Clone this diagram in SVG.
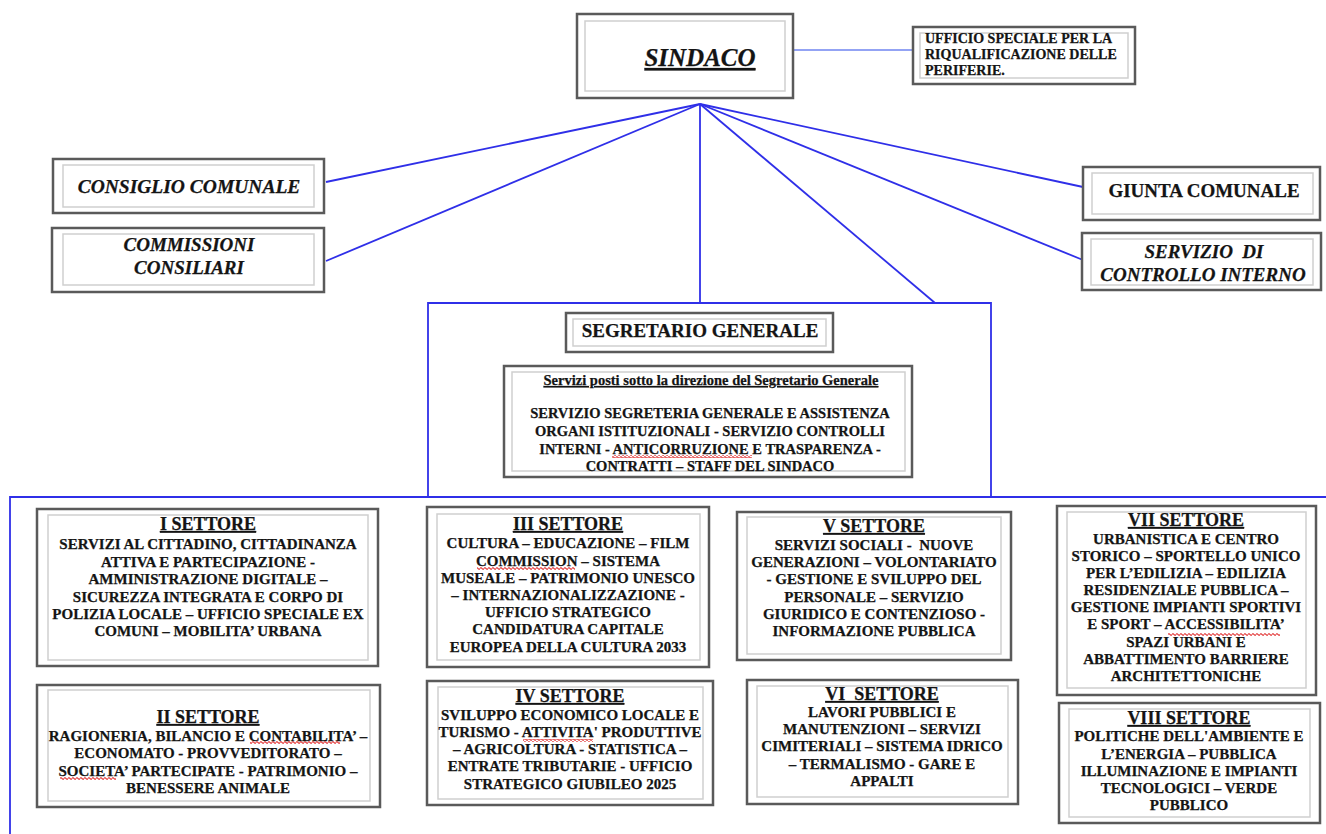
<svg xmlns="http://www.w3.org/2000/svg" width="1326" height="834" viewBox="0 0 1326 834">
<style>
.o{fill:#fff;stroke:#5a5a5a;stroke-width:2.5}
.i{fill:none;stroke:#cfcfcf;stroke-width:1.5}
text{font-family:"Liberation Serif","Times New Roman",serif;font-weight:bold;fill:#141414;stroke:#141414;stroke-width:0.25}
.c{text-anchor:middle}
.t{font-size:18px;text-decoration:underline}
.b{font-size:15px}
.h{font-size:19px}
.it{font-style:italic}
.ln{stroke:#2f2fe8;stroke-width:1.8;fill:none}
.wv{fill:url(#wave)}
</style>
<defs>
<pattern id="wave" x="0" y="0" width="4" height="3" patternUnits="userSpaceOnUse">
<path d="M0 1.5 Q1 0 2 1.5 T4 1.5" fill="none" stroke="#e02828" stroke-width="1.2"/>
</pattern>
</defs>
<rect width="1326" height="834" fill="#fff"/>
<g id="connectors">
<line x1="792" y1="50" x2="913" y2="50" stroke="#6f84f0" stroke-width="1.5"/>
<line class="ln" x1="700" y1="104" x2="326" y2="182"/>
<line class="ln" x1="700" y1="104" x2="326" y2="261"/>
<line class="ln" x1="700" y1="104" x2="700" y2="303"/>
<line class="ln" x1="700" y1="104" x2="935" y2="303"/>
<line class="ln" x1="700" y1="104" x2="1083" y2="187"/>
<line class="ln" x1="700" y1="104" x2="1083" y2="260"/>
<polyline class="ln" points="428,497 428,303 991,303 991,497"/>
<polyline class="ln" points="10,834 10,497 1326,497"/>
</g>
<g id="sindaco">
<rect class="o" x="577" y="14" width="216" height="84"/>
<rect class="i" x="585" y="21" width="200" height="70"/>
<text class="c it" x="700" y="66" style="font-size:25px;text-decoration:underline">SINDACO</text>
</g>
<g id="ufficio-speciale">
<rect class="o" x="913" y="27" width="222" height="57"/>
<rect class="i" x="920" y="33" width="208" height="45"/>
<text x="925" y="43" style="font-size:14px">UFFICIO SPECIALE PER LA</text>
<text x="925" y="59" style="font-size:14px">RIQUALIFICAZIONE DELLE</text>
<text x="925" y="75" style="font-size:14px">PERIFERIE.</text>
</g>
<g id="consiglio">
<rect class="o" x="53" y="159" width="271" height="54"/>
<rect class="i" x="63" y="165" width="251" height="42"/>
<text class="c h it" x="189" y="193" style="font-size:19.5px">CONSIGLIO COMUNALE</text>
</g>
<g id="commissioni">
<rect class="o" x="52" y="228" width="272" height="64"/>
<rect class="i" x="63" y="234" width="251" height="51"/>
<text class="c h it" x="189" y="251">COMMISSIONI</text>
<text class="c h it" x="189" y="274">CONSILIARI</text>
</g>
<g id="giunta">
<rect class="o" x="1083" y="167" width="237" height="53"/>
<rect class="i" x="1092" y="173" width="221" height="41"/>
<text class="c h" x="1204" y="197">GIUNTA COMUNALE</text>
</g>
<g id="controllo">
<rect class="o" x="1082" y="233" width="239" height="57"/>
<rect class="i" x="1091" y="239" width="222" height="46"/>
<text class="c h it" x="1204" y="258" xml:space="preserve">SERVIZIO  DI</text>
<text class="c h it" x="1203" y="281">CONTROLLO INTERNO</text>
</g>
<g id="segretario">
<rect class="o" x="566" y="313" width="267" height="39"/>
<rect class="i" x="573" y="319" width="253" height="27"/>
<text class="c h" x="700" y="337">SEGRETARIO GENERALE</text>
</g>
<g id="servizi-segretario">
<rect class="o" x="504" y="366" width="408" height="111"/>
<rect class="i" x="512" y="372" width="393" height="99"/>
<text class="c" x="711" y="385" style="font-size:14.5px;text-decoration:underline">Servizi posti sotto la direzione del Segretario Generale</text>
<text class="c" x="710" y="418" style="font-size:14.5px">SERVIZIO SEGRETERIA GENERALE E ASSISTENZA</text>
<text class="c" x="710" y="436" style="font-size:14.5px">ORGANI ISTITUZIONALI - SERVIZIO CONTROLLI</text>
<text class="c" x="710" y="454" style="font-size:14.5px">INTERNI - ANTICORRUZIONE E TRASPARENZA -</text>
<text class="c" x="710" y="471" style="font-size:14.5px">CONTRATTI – STAFF DEL SINDACO</text>
<rect class="wv" x="612" y="455" width="140" height="3"/>
</g>
<g id="settore-1">
<rect class="o" x="37" y="509" width="341" height="157"/>
<rect class="i" x="48" y="515" width="320" height="145"/>
<text class="c t" x="208" y="530">I SETTORE</text>
<text class="c b" x="208" y="549">SERVIZI AL CITTADINO, CITTADINANZA</text>
<text class="c b" x="208" y="567">ATTIVA E PARTECIPAZIONE -</text>
<text class="c b" x="208" y="584">AMMINISTRAZIONE DIGITALE –</text>
<text class="c b" x="208" y="602">SICUREZZA INTEGRATA E CORPO DI</text>
<text class="c b" x="208" y="619">POLIZIA LOCALE – UFFICIO SPECIALE EX</text>
<text class="c b" x="208" y="636">COMUNI – MOBILITA’ URBANA</text>
</g>
<g id="settore-2">
<rect class="o" x="37" y="685" width="343" height="122"/>
<rect class="i" x="48" y="690" width="322" height="111"/>
<text class="c t" x="208" y="723">II SETTORE</text>
<text class="c b" x="208" y="741">RAGIONERIA, BILANCIO E CONTABILITA’ –</text>
<text class="c b" x="208" y="758">ECONOMATO - PROVVEDITORATO –</text>
<text class="c b" x="208" y="776">SOCIETA’ PARTECIPATE - PATRIMONIO –</text>
<text class="c b" x="208" y="793">BENESSERE ANIMALE</text>
<rect class="wv" x="250" y="741" width="90" height="3"/>
<rect class="wv" x="60" y="777" width="56" height="3"/>
</g>
<g id="settore-3">
<rect class="o" x="427" y="507" width="282" height="160"/>
<rect class="i" x="437" y="514" width="263" height="146"/>
<text class="c t" x="568" y="530">III SETTORE</text>
<text class="c b" x="568" y="548">CULTURA – EDUCAZIONE – FILM</text>
<text class="c b" x="568" y="566">COMMISSION – SISTEMA</text>
<text class="c b" x="568" y="583">MUSEALE – PATRIMONIO UNESCO</text>
<text class="c b" x="568" y="600">– INTERNAZIONALIZZAZIONE -</text>
<text class="c b" x="568" y="617">UFFICIO STRATEGICO</text>
<text class="c b" x="568" y="634">CANDIDATURA CAPITALE</text>
<text class="c b" x="568" y="652">EUROPEA DELLA CULTURA 2033</text>
<rect class="wv" x="477" y="567" width="98" height="3"/>
</g>
<g id="settore-4">
<rect class="o" x="427" y="681" width="286" height="124"/>
<rect class="i" x="438" y="687" width="265" height="112"/>
<text class="c t" x="570" y="702">IV SETTORE</text>
<text class="c b" x="570" y="720">SVILUPPO ECONOMICO LOCALE E</text>
<text class="c b" x="570" y="737">TURISMO - ATTIVITA' PRODUTTIVE</text>
<text class="c b" x="570" y="754">– AGRICOLTURA - STATISTICA –</text>
<text class="c b" x="570" y="771">ENTRATE TRIBUTARIE - UFFICIO</text>
<text class="c b" x="570" y="789">STRATEGICO GIUBILEO 2025</text>
<rect class="wv" x="523" y="739" width="70" height="3"/>
</g>
<g id="settore-5">
<rect class="o" x="737" y="512" width="274" height="148"/>
<rect class="i" x="747" y="517" width="254" height="137"/>
<text class="c t" x="874" y="532">V SETTORE</text>
<text class="c b" x="874" y="550" xml:space="preserve">SERVIZI SOCIALI -  NUOVE</text>
<text class="c b" x="874" y="567">GENERAZIONI – VOLONTARIATO</text>
<text class="c b" x="874" y="584">- GESTIONE E SVILUPPO DEL</text>
<text class="c b" x="874" y="602">PERSONALE – SERVIZIO</text>
<text class="c b" x="874" y="619">GIURIDICO E CONTENZIOSO -</text>
<text class="c b" x="874" y="636">INFORMAZIONE PUBBLICA</text>
</g>
<g id="settore-6">
<rect class="o" x="747" y="680" width="271" height="124"/>
<rect class="i" x="757" y="686" width="251" height="111"/>
<text class="c t" x="882" y="700" xml:space="preserve">VI  SETTORE</text>
<text class="c b" x="882" y="717">LAVORI PUBBLICI E</text>
<text class="c b" x="882" y="734">MANUTENZIONI – SERVIZI</text>
<text class="c b" x="882" y="751">CIMITERIALI – SISTEMA IDRICO</text>
<text class="c b" x="882" y="769">– TERMALISMO - GARE E</text>
<text class="c b" x="882" y="786">APPALTI</text>
</g>
<g id="settore-7">
<rect class="o" x="1057" y="506" width="259" height="189"/>
<rect class="i" x="1067" y="512" width="239" height="176"/>
<text class="c t" x="1186" y="526">VII SETTORE</text>
<text class="c b" x="1186" y="544">URBANISTICA E CENTRO</text>
<text class="c b" x="1186" y="561">STORICO – SPORTELLO UNICO</text>
<text class="c b" x="1186" y="578">PER L’EDILIZIA – EDILIZIA</text>
<text class="c b" x="1186" y="595">RESIDENZIALE PUBBLICA –</text>
<text class="c b" x="1186" y="612">GESTIONE IMPIANTI SPORTIVI</text>
<text class="c b" x="1186" y="629">E SPORT – ACCESSIBILITA’</text>
<text class="c b" x="1186" y="647">SPAZI URBANI E</text>
<text class="c b" x="1186" y="664">ABBATTIMENTO BARRIERE</text>
<text class="c b" x="1186" y="681">ARCHITETTONICHE</text>
<rect class="wv" x="1168" y="633" width="112" height="3"/>
</g>
<g id="settore-8">
<rect class="o" x="1059" y="703" width="261" height="120"/>
<rect class="i" x="1069" y="709" width="241" height="108"/>
<text class="c t" x="1189" y="724">VIII SETTORE</text>
<text class="c b" x="1189" y="741">POLITICHE DELL'AMBIENTE E</text>
<text class="c b" x="1189" y="759">L’ENERGIA – PUBBLICA</text>
<text class="c b" x="1189" y="776">ILLUMINAZIONE E IMPIANTI</text>
<text class="c b" x="1189" y="793">TECNOLOGICI – VERDE</text>
<text class="c b" x="1189" y="810">PUBBLICO</text>
</g>
</svg>
